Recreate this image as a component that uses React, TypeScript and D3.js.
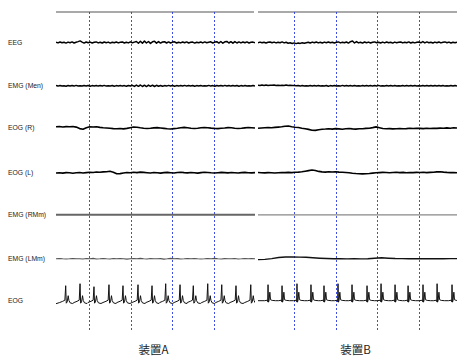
import React, { useEffect, useRef } from 'react';
import * as d3 from 'd3';

// channel labels (top to bottom) and their baseline y positions
const channels = ['EEG', 'EMG (Men)', 'EOG (R)', 'EOG (L)', 'EMG (RMm)', 'EMG (LMm)', 'EOG'];
const channelY = [42.5, 85.8, 128, 172.8, 214.8, 258.8, 300.7];

const panelTitles = ['装置A', '装置B'];
const markersA = [4, 9, 14, 19];
const markersB = [4.4, 9.4, 14.4, 19.4];

const eegA = [0.3,-0.4,0.5,-0.3,0.2,-0.6,0.4,-0.2,0.6,-0.5,0.3,0.9,1.6,0.4,-0.6,0.5,-0.3,0.4,-0.5,0.2,0.6,-0.4,0.3,-0.5,0.5,-0.2,0.4,-0.6,0.3,-0.3,0.5,-0.4,0.2,0.6,-0.5,0.3,-0.4,0.7,-0.3,0.4,1.0,-0.7,1.2,-0.8,1.4,-0.5,1.0,-0.9,0.7,1.3,-0.6,0.9,-0.6,0.5,0.8,-0.5,0.6,-0.5,0.4,0.7,-0.5,0.3,-0.4,0.5,-0.3,0.6,-0.5,0.2,0.4,-0.6,0.3,-0.2,0.5,-0.4,0.6,-0.3,0.2,0.7,-0.5,0.4,0.8,-0.6,1.0,-0.7,0.7,1.1,-0.5,0.8,-0.7,0.9,-0.5,0.6,-0.4,0.5,-0.3,0.6,-0.5,0.3,0.4,-0.2];
const eegB = [-0.2,0.4,-0.3,0.3,-0.5,0.2,0.5,-0.3,0.4,-0.4,0.3,-0.2,0.6,-0.4,0.2,-0.7,-0.3,-1.0,-0.4,-1.1,-0.5,-0.9,-0.3,-0.8,-0.2,0.3,-0.5,0.4,-0.3,0.5,-0.4,0.2,-0.5,0.4,-0.2,0.5,-0.3,0.3,-0.5,0.2,0.6,-0.4,0.3,-0.3,0.5,-0.6,0.8,1.5,-0.5,0.9,-0.4,0.3,-0.6,0.5,-0.2,0.4,-0.5,0.3,0.6,-0.3,0.2,-0.5,0.4,-0.4,0.5,-0.2,0.3,-0.6,0.4,-0.3,0.2,0.5,-0.4,0.3,-0.2,0.6,-0.5,0.3,-0.4,0.2,0.5,-0.3,0.9,-0.4,0.6,-0.2,0.3,-0.5,0.4,-0.3,0.5,-0.4,0.2,0.6,-0.3,0.4,-0.5,0.3,-0.2,0.4];

const emgMenA = [0.2,-0.3,0.3,-0.2,0.1,-0.4,0.3,-0.1,0.2,-0.3,0.4,-0.2,0.1,-0.3,0.2,-0.2,0.3,-0.4,0.2,-0.1,0.3,-0.3,0.2,-0.2,0.4,-0.3,0.1,-0.2,0.3,-0.4,0.2,-0.1,0.3,-0.3,0.2,-0.4,0.3,-0.2,0.5,-0.6,0.7,-0.5,0.8,-0.7,0.6,-0.8,0.7,-0.5,0.6,-0.7,0.5,-0.4,0.3,-0.5,0.2,-0.3,0.4,-0.2,0.3,-0.4,0.2,-0.3,0.3,-0.2,0.4,-0.3,0.2,-0.1,0.3,-0.4,0.2,-0.2,0.3,-0.3,0.1,-0.2,0.4,-0.3,0.2,-0.4,0.3,-0.2,0.2,-0.3,0.4,-0.2,0.3,-0.3,0.2,-0.1,0.3,-0.4,0.2,-0.3,0.3,-0.2,0.1,-0.3,0.2,-0.2];
const emgMenB = [0.6,0.3,0.7,0.4,0.8,0.3,0.6,0.5,0.7,0.2,0.6,0.4,0.5,0.3,0.7,0.2,0.5,0.4,0.3,0.1,0.2,-0.3,0.3,-0.2,0.1,-0.3,0.2,-0.2,0.3,-0.1,0.2,-0.3,0.1,-0.2,0.3,-0.4,0.2,-0.1,0.3,-0.2,0.1,-0.3,0.4,-0.2,0.2,-0.1,0.3,-0.3,0.2,-0.2,0.1,-0.3,0.3,-0.2,0.2,-0.1,0.3,-0.3,0.2,-0.2,0.4,-0.3,0.1,-0.2,0.3,-0.1,0.2,-0.3,0.3,-0.2,0.1,-0.2,0.3,-0.3,0.2,-0.1,0.3,-0.2,0.2,-0.3,0.1,-0.2,0.3,-0.1,0.2,-0.3,0.2,-0.2,0.3,-0.1,0.2,-0.2,0.3,-0.3,0.1,-0.2,0.2,-0.1,0.3,-0.2];

const eogRA = [1.2,1.5,1.0,1.4,1.2,1.5,0.9,-0.6,-1.3,0.3,1.3,1.0,1.2,0.6,0.2,0.0,-0.3,-0.6,-0.8,-0.5,-0.9,-0.4,0.3,1.0,0.8,0.2,-0.2,-0.5,-0.3,0.1,0.4,0.0,-0.4,-0.8,-1.0,-0.6,-0.2,0.3,0.6,0.2,-0.3,-0.5,-0.2,0.2,0.5,0.3,-0.1,-0.4,-0.6,-0.3,0.0,0.4,0.2,-0.2,-0.5,-0.3,0.1,0.5,0.3,0.0];
const eogRB = [-0.3,0.0,0.3,0.5,0.3,0.6,0.9,1.2,1.8,2.0,1.3,0.8,0.5,-0.2,-0.8,-1.4,-2.2,-2.4,-1.7,-1.2,-1.0,-0.7,-1.1,-0.6,-0.9,-1.2,-0.8,-0.5,-0.9,-1.1,-0.7,-0.8,-0.4,-0.2,0.4,1.1,0.3,-0.5,-0.8,-0.6,-0.9,-0.7,-0.5,-0.8,-0.6,-0.3,-0.5,-0.2,-0.4,-0.6,-0.3,-0.5,-0.2,-0.4,-0.1,-0.3,0.1,-0.2,0.2,0.0];

const eogLA = [-0.2,0.1,-0.3,0.2,0.0,-0.4,0.1,0.3,-0.2,0.2,0.5,0.3,0.8,0.5,0.9,1.1,1.6,0.6,-0.9,-0.8,-0.2,0.3,0.1,0.5,0.2,0.7,0.4,0.1,-0.2,0.3,0.0,-0.3,0.2,0.4,0.1,-0.2,0.3,0.6,0.2,-0.1,0.3,0.0,-0.3,0.2,0.5,0.3,0.0,-0.2,0.1,0.4,0.2,-0.1,0.3,0.1,-0.2,0.2,0.4,0.1,-0.1,0.2];
const eogLB = [0.3,0.1,-0.1,0.2,0.0,-0.2,0.1,0.3,0.2,0.4,0.2,0.5,0.7,1.0,1.6,2.2,2.8,2.3,1.4,0.9,0.7,1.0,0.8,1.1,0.7,0.5,0.3,0.0,-0.4,-0.7,-0.9,-1.1,-1.0,-0.7,-0.3,0.0,0.2,0.4,0.3,0.1,0.3,0.5,0.2,0.4,0.1,0.3,0.2,0.4,0.3,0.5,0.2,0.4,0.6,0.9,1.1,0.7,0.4,0.2,0.3,0.1];

const emgRA = [0, 0];
const emgRB = [0, 0];

const emgLA = [0,0.3,0,-0.2,0,0.3,0,0,-0.2,0.3,0,0.4,-0.2,0,0.3,0,-0.2,0.3,0,0.2,0,-0.3,0,0.2,0,0.4,0,-0.2,0.3,0,0,0.2,-0.3,0,0.4,0,0.2,-0.2,0,0.3,0,0.3,0,-0.2,0,0.3,0,0.4,0,-0.2,0.2,0,0,0.3,-0.2,0,0.3,0,0.2,0];
const emgLB = [-0.8,-0.6,0.2,1.3,1.8,1.9,1.7,1.5,1.0,0.6,0.3,0.1,0.0,-0.1,0.0,-0.1,0.1,0.6,1.0,0.6,0.3,0.2,0.1,0.2,0.0,0.1,0.2,0.1,0.2,0.2];

// ECG: beat times (s), R amplitudes and one beat shape [dt (s), amplitude]
const ecgBeatsA = [1.17, 2.9, 4.58, 6.39, 8.08, 9.89, 11.58, 13.23, 14.96, 16.56, 18.3, 19.99, 21.71, 23.49];
const ecgPeaksA = [15, 17, 14, 16, 15, 16, 15, 17, 16, 15, 17, 16, 15, 16];
const ecgShapeA = [[-0.72, -1.8], [-0.36, -0.6], [-0.1, 0.5], [0, null], [0.07, -2.5], [0.18, -1.2], [0.3, 5], [0.39, 0.2], [0.54, -2.2], [0.84, -2.8]];
const ecgBeatsB = [1.21, 2.9, 4.7, 6.39, 7.96, 9.65, 11.34, 13.15, 14.84, 16.53, 18.1, 19.9, 21.6, 23.4];
const ecgPeaksB = [16, 15, 17, 16, 15, 17, 16, 15, 17, 16, 15, 16, 17, 16];
const ecgShapeB = [[-0.4, 0], [-0.1, 0.5], [-0.04, -1], [0, null], [0.05, -1.5], [0.12, 0], [0.22, 8.5], [0.3, 1], [0.5, 0.3], [0.9, 0]];

const duration = 24;

const App = () => {
  const svgRef = useRef<SVGSVGElement>(null);

  useEffect(() => {
    const width = 458;
    const height = 357;
    const svg = d3.select(svgRef.current).attr('width', width).attr('height', height);
    svg.selectAll('*').remove();

    const top = 12;
    const bottom = 331.5;

    const panels = [
      { x: d3.scaleLinear().domain([0, duration]).range([56, 255]), markers: markersA, title: panelTitles[0],
        traces: [eegA, emgMenA, eogRA, eogLA, emgRA, emgLA], ecg: [ecgBeatsA, ecgPeaksA, ecgShapeA] },
      { x: d3.scaleLinear().domain([0, duration]).range([258, 457]), markers: markersB, title: panelTitles[1],
        traces: [eegB, emgMenB, eogRB, eogLB, emgRB, emgLB], ecg: [ecgBeatsB, ecgPeaksB, ecgShapeB] },
    ];

    const styles = [
      { stroke: '#000', w: 1.5 },
      { stroke: '#000', w: 1.5 },
      { stroke: '#000', w: 1.6 },
      { stroke: '#000', w: 1.6 },
      { stroke: '#666', w: 2 },
      { stroke: '#555', w: 1.1 },
    ];
    const stylesB4 = { stroke: '#888', w: 1.2 };
    const stylesB5 = { stroke: '#111', w: 1.4 };

    const defs = svg.append('defs');

    panels.forEach((p, pi) => {
      const [x0, x1] = p.x.range();
      defs.append('clipPath').attr('id', `clip${pi}`)
        .append('rect').attr('x', x0).attr('y', 0).attr('width', x1 - x0).attr('height', height);

      // top rule
      svg.append('line')
        .attr('x1', x0).attr('x2', x1 - (pi === 0 ? 1 : 0))
        .attr('y1', top).attr('y2', top)
        .attr('stroke', '#555').attr('stroke-width', 1.2);

      // dashed event markers
      svg.selectAll(null).data(p.markers).enter().append('line')
        .attr('x1', d => Math.round(p.x(d)) + 0.5).attr('x2', d => Math.round(p.x(d)) + 0.5)
        .attr('y1', top).attr('y2', bottom)
        .attr('stroke', '#2a3ae0').attr('stroke-width', 0.9)
        .attr('stroke-dasharray', '2,2');

      const g = svg.append('g').attr('clip-path', `url(#clip${pi})`);

      p.traces.forEach((arr, ci) => {
        const y = d3.scaleLinear().domain([-20, 20]).range([channelY[ci] + 20, channelY[ci] - 20]);
        const line = d3.line<number>()
          .x((_, i) => p.x((i * duration) / (arr.length - 1)))
          .y(d => y(d));
        let st = styles[ci];
        if (pi === 1 && ci === 4) st = stylesB4;
        if (pi === 1 && ci === 5) st = stylesB5;
        g.append('path').datum(arr)
          .attr('d', line)
          .attr('fill', 'none')
          .attr('stroke', st.stroke)
          .attr('stroke-width', st.w)
          .attr('stroke-linejoin', 'round');
      });

      // ECG
      const [beats, peaks, shape] = p.ecg as [number[], number[], (number | null)[][]];
      const pts: [number, number][] = [[0, pi === 0 ? -3 : 0]];
      beats.forEach((b, bi) => {
        shape.forEach(([dt, a]) => {
          pts.push([b + (dt as number), a === null ? peaks[bi] : (a as number)]);
        });
      });
      pts.push([duration + 1, 0]);
      const yE = d3.scaleLinear().domain([-20, 20]).range([channelY[6] + 20, channelY[6] - 20]);
      g.append('path').datum(pts)
        .attr('d', d3.line<[number, number]>().x(d => p.x(d[0])).y(d => yE(d[1])))
        .attr('fill', 'none')
        .attr('stroke', '#111')
        .attr('stroke-width', 1);

      // panel title
      svg.append('text')
        .attr('x', (x0 + x1) / 2 - 2)
        .attr('y', 354)
        .attr('text-anchor', 'middle')
        .style('font-family', '"Noto Sans CJK JP", "Noto Sans", sans-serif')
        .style('font-size', '11.5px')
        .attr('fill', '#222')
        .text(p.title);
    });

    // channel labels
    svg.selectAll('.lbl').data(channels).enter().append('text')
      .attr('class', 'lbl')
      .attr('x', 8)
      .attr('y', (_, i) => channelY[i] + 2.4)
      .style('font-family', '"Liberation Sans", Arial, sans-serif')
      .style('font-size', '6.8px')
      .attr('fill', '#222')
      .text(d => d);
  }, []);

  return (
    <div style={{ position: 'absolute', left: 0, top: 0 }}>
      <svg ref={svgRef} style={{ display: 'block' }}></svg>
    </div>
  );
};

export default App;
